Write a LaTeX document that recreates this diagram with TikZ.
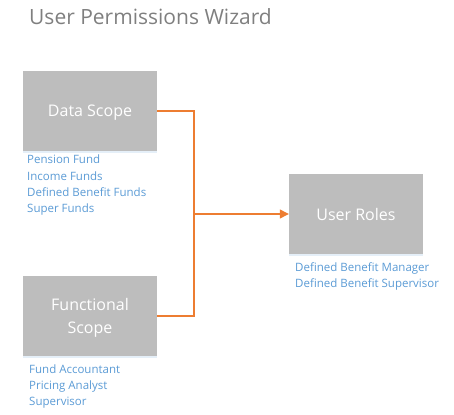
\documentclass[tikz,border=0pt]{standalone}
\usepackage{fontspec}
\setmainfont{Open Sans}
\usetikzlibrary{arrows.meta,shadows}
\definecolor{boxgray}{HTML}{BDBDBD}
\definecolor{titlegray}{HTML}{7F7F7F}
\definecolor{listblue}{HTML}{5B9BD5}
\definecolor{lineorange}{HTML}{ED7D31}
\begin{document}
\begin{tikzpicture}[x=1pt,y=-1pt]
\tikzstyle{block}=[fill=boxgray, minimum width=134pt, minimum height=80pt, inner sep=0pt, text=white, text depth=0pt, font=\fontsize{16}{23}\selectfont, align=center, drop shadow={shadow xshift=0pt, shadow yshift=-1.5pt, fill=listblue!40, opacity=0.4}]
\tikzstyle{items}=[anchor=base west, text=listblue, font=\fontsize{11.5}{16.3}\selectfont, align=left, inner sep=0pt]
\tikzstyle{conn}=[draw=lineorange, line width=1.3pt]
\useasboundingbox (0,0) rectangle (454,414);

\node[anchor=base west, inner sep=0pt, text=titlegray, font=\fontsize{21}{25}\selectfont] (title) at (29,25) {User Permissions Wizard};

\node[block] (DS) at (90,111) {Data Scope};
\node[block] (FS) at (90,316) {Functional\\Scope};
\node[block] (UR) at (356,214) {User Roles};

% lists sit on the baseline of their last line
\node[items] (DSlist) at (27,212.7) {Pension Fund\\Income Funds\\Defined Benefit Funds\\Super Funds};
\node[items] (FSlist) at (29,405.7) {Fund Accountant\\Pricing Analyst\\Supervisor};
\node[items] (URlist) at (295,287.7) {Defined Benefit Manager\\Defined Benefit Supervisor};

\coordinate (join) at (194,214);
\draw[conn] (DS.east) -| (join);
\draw[conn] (FS.east) -| (join);
\draw[conn, -{Triangle[length=9pt, width=9pt]}] (join) -- (UR.west);

\end{tikzpicture}
\end{document}
